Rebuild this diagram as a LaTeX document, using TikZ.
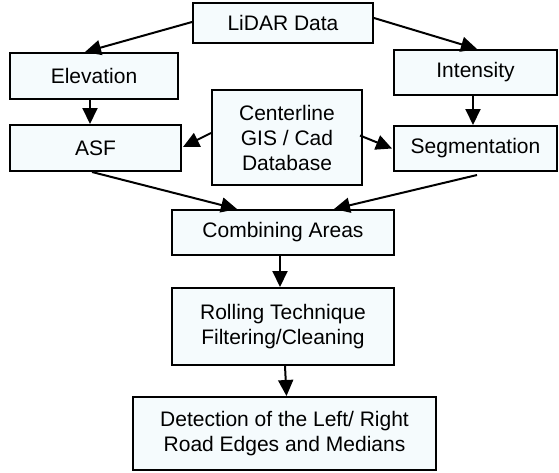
\documentclass[tikz,border=0pt]{standalone}
\usepackage{fontspec}
\setmainfont{Liberation Sans}
\usetikzlibrary{arrows.meta,calc}
\definecolor{boxfill}{RGB}{245,251,253}
\begin{document}
\begin{tikzpicture}[x=1pt,y=-1pt,
  box/.style={draw=black,line width=2pt,fill=boxfill,align=center,inner sep=0pt,
    font=\fontsize{21}{25}\selectfont},
  arr/.style={line width=2pt,-{Triangle[length=16pt,width=15pt]}}]
\useasboundingbox (0,0) rectangle (559,472);
\node[box,minimum width=180pt,minimum height=40pt] (lidar) at (283,23) {LiDAR Data};
\node[box,minimum width=168pt,minimum height=46pt] (elev) at (94,76) {Elevation};
\node[box,minimum width=163pt,minimum height=45pt] (inten) at (475.5,72.5) {Intensity};
\node[box,minimum width=171pt,minimum height=46pt] (asf) at (95.5,148) {ASF};
\node[box,minimum width=150pt,minimum height=95pt] (cent) at (287,137.5) {Centerline\\GIS / Cad\\Database};
\node[box,minimum width=163pt,minimum height=45pt] (seg) at (475.5,148.5) {Segmentation};
\node[box,minimum width=222pt,minimum height=45pt] (comb) at (283,232.5) {Combining Areas};
\node[box,minimum width=222pt,minimum height=77pt] (roll) at (283,326.5) {Rolling Technique\\Filtering/Cleaning};
\node[box,minimum width=303pt,minimum height=73pt] (det) at (284.5,433.5) {Detection of the Left/ Right\\Road Edges and Medians};
\draw[arr] ($(lidar.west)+(0,-1)$) -- ($(elev.north)+(-9,0)$);
\draw[arr] ($(lidar.east)+(0,-5)$) -- ($(inten.north)+(1.5,0)$);
\draw[arr] ($(elev.south)+(-4,0)$) -- ($(asf.north)+(-5.5,0)$);
\draw[arr] ($(inten.south)+(-2.5,0)$) -- ($(seg.north)+(-2.5,0)$);
\draw[arr] ($(cent.west)+(0,-4.5)$) -- ($(asf.east)+(1,-1)$);
\draw[arr] ($(cent.east)+(-3,-2)$) -- ($(seg.west)+(-1,0)$);
\draw[arr] ($(asf.south)+(-3.5,0)$) -- ($(comb.north)+(-46,0)$);
\draw[arr] ($(seg.south)+(1.5,3)$) -- ($(comb.north)+(51,0)$);
\draw[arr] ($(comb.south)+(-3,0)$) -- ($(roll.north)+(-3,0)$);
\draw[arr] ($(roll.south)+(2,0)$) -- ($(det.north)+(2,0)$);
\end{tikzpicture}
\end{document}
